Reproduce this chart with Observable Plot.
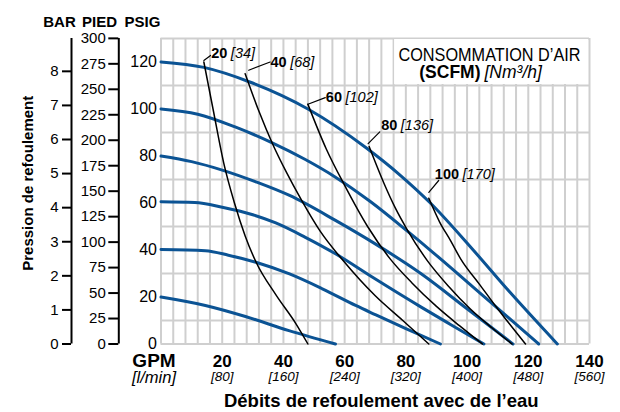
<!DOCTYPE html>
<html><head><meta charset="utf-8">
<script src="https://cdn.jsdelivr.net/npm/d3@7"></script>
<script src="https://cdn.jsdelivr.net/npm/@observablehq/plot@0.6"></script>
<style>body{margin:0;background:#fff} svg{display:block}</style>
</head><body><div id="chart"></div>
<script>
// ---- data ----
const gpmTicks = [20, 40, 60, 80, 100, 120, 140];
const lpmTicks = ["[80]", "[160]", "[240]", "[320]", "[400]", "[480]", "[560]"];
const psigTicks = [0, 20, 40, 60, 80, 100, 120];
const barTicks = [0, 1, 2, 3, 4, 5, 6, 7, 8];
const piedTicks = [0, 25, 50, 75, 100, 125, 150, 175, 200, 225, 250, 275, 300];
const scfmLabels = [20, 40, 60, 80, 100];
const nm3Labels = [34, 68, 102, 136, 170];
const gridX = [0,4,8,12,16,20,24,28,32,36,40,44,48,52,56,60,64,68,72,76,80,84,88,92,96,100,104,108,112,116,120,124,128,132,136,140];
const gridY = [0, 10, 30, 50, 70, 90, 110, 130];

// pump curves: [GPM, PSIG]
const pump20  = [[0,20],[14.5,16.4],[27.6,11.7],[41.8,5.7],[57,0]];
const pump40  = [[0,40.2],[14.5,39.7],[22,37.8],[31,34.8],[42,29.8],[52.7,23.5],[63.6,16.4],[70,12.5],[80,6.5],[91.3,0]];
const pump60  = [[0,60.5],[11,60.2],[20,58.2],[30,55],[37.5,51.5],[47,45.5],[57,38.4],[69,28.5],[85,15.7],[95,8],[105.5,0]];
const pump80  = [[0,80],[10,77.6],[20,74],[31,69],[42,63.2],[57,52.6],[70,42.6],[85,29.9],[100,15],[115,0]];
const pump100 = [[0,100],[12,97.8],[24,92.5],[36,85.8],[47,78.6],[57,71],[68.5,60.5],[80.5,48],[89,38.8],[105,20.8],[123.4,0]];
const pump120 = [[0,120],[14,117.7],[29,111.5],[48,100],[67,83.5],[78,72],[88,60],[102,40],[113,23.5],[129.5,0]];
// air consumption curves (SCFM): [GPM, PSIG]
const air20  = [[14,120],[17,100],[20.5,77],[24,60],[27.5,46],[31,35],[37.5,21],[44,8.8],[48,0]];
const air40  = [[27.5,115],[32,99],[36.5,85],[41,73],[46,61],[52,48],[59.5,35.5],[70,20.5],[79,10],[87.5,0]];
const air60  = [[48,102],[54,83],[60,67.5],[67.5,50],[75,36],[82,26],[90,16],[97.5,7.8],[105,0]];
const air80  = [[68,84],[72.8,68.5],[76.5,58],[80.5,48.5],[87,35.5],[94,24.5],[101,15],[108,7],[114.7,0]];
const air100 = [[87.5,62],[91,52],[94.6,44],[98,36],[104,25.5],[110,15],[119.1,0]];

// ---- layout / style ----
const FONT = "'Liberation Sans Narrow','Liberation Sans',Arial,sans-serif";
const BLUE = "#0b5394";
const GRID = "#cfcfcf";
const BAR_PSI = 14.5038, FT_PSI = 0.43353;
const legendBox = {x1: 76, x2: 140, y1: 110, y2: 130};
const leaders = [
  {len: 8.4, rot: 53, dx: 0, dy: -1.5, gx: 25, ly: -8.8},
  {len: 23, rot: 69, dx: 3.5, dy: -3.5, gx: 43, ly: -11.5},
  {len: 18.6, rot: 69, dx: 0, dy: 0, gx: 35.6, ly: -7.1},
  {len: 16.5, rot: 45, dx: -1, dy: -3, gx: 29.7, ly: -21},
  {len: 15.4, rot: 40, dx: 0, dy: -6, gx: 31.75, ly: -23.8}
];
const C = {textAnchor: "middle", lineAnchor: "middle"};

const series = (name, pts) => pts.map(([gpm, psi]) => ({name, gpm, psi}));
const pumpCurves = [pump20, pump40, pump60, pump80, pump100, pump120];
const airCurves = [air20, air40, air60, air80, air100];
const pumpData = pumpCurves.flatMap((p, i) => series(i, p));
const airData = airCurves.flatMap((p, i) => series(i, p));

const labelMarks = scfmLabels.flatMap((s, i) => {
  const top = airCurves[i][0];
  const L = leaders[i];
  return [
    Plot.vector([top], {x: d => d[0], y: d => d[1], length: L.len, rotate: L.rot, anchor: "start", r: 0,
      dx: L.dx, dy: L.dy, stroke: "#000", strokeWidth: 1.2}),
    Plot.text([top], {x: d => d[0], y: d => d[1], text: () => String(s), dx: L.gx - 1.5, dy: L.ly,
      textAnchor: "end", lineAnchor: "middle", fontWeight: "bold", fontSize: 14.5}),
    Plot.text([top], {x: d => d[0], y: d => d[1], text: () => `[${nm3Labels[i]}]`, dx: L.gx + 2, dy: L.ly,
      textAnchor: "start", lineAnchor: "middle", fontStyle: "italic", fontSize: 14.5})
  ];
});

const chart = Plot.plot({
  width: 620, height: 412,
  marginLeft: 160.5, marginRight: 31, marginTop: 38, marginBottom: 68.5,
  x: {domain: [0, 140], axis: null},
  y: {domain: [0, 130], axis: null},
  style: {fontFamily: FONT, fontSize: "16px", background: "#fff", color: "#000", overflow: "visible"},
  marks: [
    Plot.ruleX(gridX, {y1: 0, y2: 130, stroke: GRID, strokeWidth: 2}),
    Plot.ruleY(gridY, {x1: 0, x2: 140, stroke: GRID, strokeWidth: 2}),
    Plot.rect([legendBox], {x1: "x1", x2: "x2", y1: "y1", y2: "y2", fill: "#fff", inset: 1}),
    Plot.line(pumpData, {x: "gpm", y: "psi", z: "name", stroke: BLUE, strokeWidth: 3, curve: "monotone-x"}),
    Plot.line(airData, {x: "gpm", y: "psi", z: "name", stroke: "#000", strokeWidth: 1.5, curve: "monotone-x"}),
    ...labelMarks,
    // PSIG axis
    Plot.axisY(psigTicks, {anchor: "left", tickSize: 0, tickPadding: 4, label: null, fontSize: 16}),
    // PIED axis
    Plot.axisY(piedTicks.map(f => f * FT_PSI), {anchor: "left", tickSize: 10, tickPadding: 3, dx: -42.2,
      strokeWidth: 2, label: null, fontSize: 15, tickFormat: v => String(Math.round(v / FT_PSI))}),
    Plot.ruleX([0], {y1: 0, y2: 130, dx: -42.2, strokeWidth: 2}),
    // BAR axis
    Plot.axisY(barTicks.map(b => b * BAR_PSI), {anchor: "left", tickSize: 9, tickPadding: 4, dx: -89.5,
      strokeWidth: 2, label: null, fontSize: 15, tickFormat: v => String(Math.round(v / BAR_PSI))}),
    Plot.ruleX([0], {y1: 0, y2: 130, dx: -89.5, strokeWidth: 2}),
    // axis headers
    Plot.text(["BAR"], {...C, frameAnchor: "top-left", dx: -101.5, dy: -16.3, fontWeight: "bold", fontSize: 15}),
    Plot.text(["PIED"], {...C, frameAnchor: "top-left", dx: -61.5, dy: -16.3, fontWeight: "bold", fontSize: 15}),
    Plot.text(["PSIG"], {...C, frameAnchor: "top-left", dx: -18.5, dy: -16.3, fontWeight: "bold", fontSize: 15}),
    Plot.text(["Pression de refoulement"], {...C, frameAnchor: "left", dx: -132.5, dy: -8, rotate: -90, fontWeight: "bold", fontSize: 15}),
    // x axis labels
    Plot.text(gpmTicks, {...C, x: d => d, frameAnchor: "bottom", dy: 17.5, text: d => String(d), fontWeight: "bold", fontSize: 17}),
    Plot.text(lpmTicks, {...C, x: (d, i) => gpmTicks[i], frameAnchor: "bottom", dy: 32.5, text: d => d, fontStyle: "italic", fontSize: 13.5}),
    Plot.text(["GPM"], {...C, x: () => 0, frameAnchor: "bottom", dx: -7, dy: 16.5, fontWeight: "bold", fontSize: 19}),
    Plot.text(["[l/min]"], {...C, x: () => 0, frameAnchor: "bottom", dx: -7, dy: 34, fontStyle: "italic", fontSize: 16.5}),
    Plot.text(["Débits de refoulement avec de l’eau"], {...C, frameAnchor: "bottom", dx: 6, dy: 57, fontWeight: "bold", fontSize: 18.5}),
    // legend
    Plot.text(["CONSOMMATION D’AIR"], {...C, frameAnchor: "top-right", dx: -100, dy: 17, fontSize: 17.5}),
    Plot.text(["(SCFM)"], {frameAnchor: "top-right", dx: -109, dy: 34, textAnchor: "end", lineAnchor: "middle", fontWeight: "bold", fontSize: 17.5}),
    Plot.text(["[Nm³/h]"], {frameAnchor: "top-right", dx: -105, dy: 34, textAnchor: "start", lineAnchor: "middle", fontStyle: "italic", fontSize: 17.5})
  ]
});
document.getElementById("chart").append(chart);
// condense the legend heading to the reference's width
for (const t of chart.querySelectorAll("text")) {
  if (t.textContent === "CONSOMMATION D’AIR") {
    t.setAttribute("textLength", 182);
    t.setAttribute("lengthAdjust", "spacingAndGlyphs");
  }
}
</script>
</body></html>
